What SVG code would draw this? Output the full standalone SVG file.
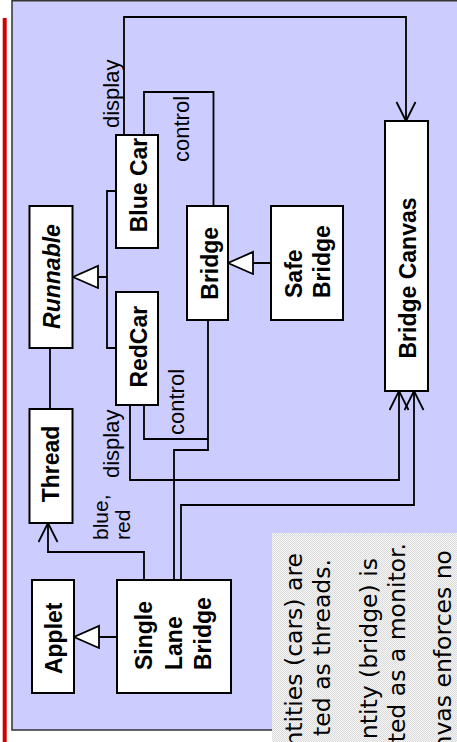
<svg xmlns="http://www.w3.org/2000/svg" width="457" height="742" viewBox="0 0 457 742">
<style>
.box{fill:#fff;stroke:#000;stroke-width:2}
.ln{fill:none;stroke:#000;stroke-width:1.8}
.b{font-family:"Liberation Sans",Arial,sans-serif;font-weight:bold;font-size:23px;fill:#000}
.bi{font-family:"Liberation Sans",Arial,sans-serif;font-weight:bold;font-style:italic;font-size:23px;fill:#000}
.r{font-family:"Liberation Sans",Arial,sans-serif;font-size:22px;fill:#000}
.s{font-family:"Liberation Sans",Arial,sans-serif;font-size:21px;fill:#000}
.n{font-family:"DejaVu Sans","Noto Sans",sans-serif;font-size:23.5px;fill:#000}
</style>
<defs>
<marker id="open" markerUnits="userSpaceOnUse" markerWidth="24" markerHeight="24" viewBox="0 0 24 24" refX="20" refY="10.5" orient="auto">
<path d="M1,1 L20,10.5 L1,20" fill="none" stroke="#000" stroke-width="1.8"/>
</marker>
<marker id="tri" markerUnits="userSpaceOnUse" markerWidth="30" markerHeight="26" viewBox="0 0 30 26" refX="27" refY="12" orient="auto">
<path d="M2,1 L27,12 L2,23 Z" fill="#fff" stroke="#000" stroke-width="1.8"/>
</marker>
<pattern id="dots" width="2" height="2" patternUnits="userSpaceOnUse">
<rect width="2" height="2" fill="#f6f6f6"/>
<rect width="1" height="1" fill="#dadada"/>
<rect x="1" y="1" width="1" height="1" fill="#dadada"/>
</pattern>
</defs>
<rect width="457" height="742" fill="#fff"/>
<rect x="2.7" y="18" width="4" height="724" fill="#d00000"/>
<rect x="12" y="0.75" width="460" height="729.25" fill="#ccccff" stroke="#333" stroke-width="1.5"/>

<g id="connectors">
<path class="ln" d="M116,191 H107 V348 H116"/>
<path class="ln" d="M107,277 H73" marker-end="url(#tri)"/>
<path class="ln" d="M271,263 H228" marker-end="url(#tri)"/>
<path class="ln" d="M117,637 H74" marker-end="url(#tri)"/>
<path class="ln" d="M50,348 V409"/>
<path class="ln" d="M124,135 V17 H406 V121" marker-end="url(#open)"/>
<path class="ln" d="M144,135 V92 H213.5 V206"/>
<path class="ln" d="M130,405 V480 H399 V391" marker-end="url(#open)"/>
<path class="ln" d="M144,405 V439 H208"/>
<path class="ln" d="M208,320 V450 H174 V580"/>
<path class="ln" d="M181,580 V505 H414 V391" marker-end="url(#open)"/>
<path class="ln" d="M144,580 V552 H48 V523" marker-end="url(#open)"/>
<text class="r" transform="translate(118.5,128) rotate(-90)">display</text>
<text class="r" transform="translate(189,162) rotate(-90)">control</text>
<text class="r" transform="translate(118.5,478) rotate(-90)">display</text>
<text class="r" transform="translate(184,435) rotate(-90)">control</text>
<text class="s" transform="translate(108,540) rotate(-90)">blue,</text>
<text class="s" transform="translate(130,540) rotate(-90)">red</text>
</g>

<g id="runnable">
<rect class="box" x="29.5" y="206" width="43" height="142"/>
<text class="bi" text-anchor="middle" transform="translate(60,276.5) rotate(-90)">Runnable</text>
</g>
<g id="thread">
<rect class="box" x="29.5" y="409" width="43" height="114"/>
<text class="b" text-anchor="middle" transform="translate(58.5,464) rotate(-90)">Thread</text>
</g>
<g id="bluecar">
<rect class="box" x="116" y="135" width="42" height="113"/>
<text class="b" text-anchor="middle" transform="translate(146.5,185) rotate(-90)">Blue Car</text>
</g>
<g id="redcar">
<rect class="box" x="116" y="292" width="42" height="113"/>
<text class="b" text-anchor="middle" transform="translate(146.5,346.7) rotate(-90)">RedCar</text>
</g>
<g id="bridge">
<rect class="box" x="187" y="206" width="41" height="114"/>
<text class="b" text-anchor="middle" transform="translate(217.5,263.3) rotate(-90)">Bridge</text>
</g>
<g id="safebridge">
<rect class="box" x="271" y="206" width="72" height="114"/>
<text class="b" transform="translate(301.5,298) rotate(-90)">Safe</text>
<text class="b" transform="translate(330,298) rotate(-90)">Bridge</text>
</g>
<g id="bridgecanvas">
<rect class="box" x="385" y="121" width="43" height="270"/>
<text class="b" text-anchor="middle" transform="translate(416,278) rotate(-90)">Bridge Canvas</text>
</g>
<g id="applet">
<rect class="box" x="32" y="580" width="42" height="113"/>
<text class="b" text-anchor="middle" transform="translate(62,638.3) rotate(-90)">Applet</text>
</g>
<g id="singlelanebridge">
<rect class="box" x="117" y="580" width="114" height="113"/>
<text class="b" transform="translate(152,670) rotate(-90)">Single</text>
<text class="b" transform="translate(181.5,670) rotate(-90)">Lane</text>
<text class="b" transform="translate(211,670) rotate(-90)">Bridge</text>
</g>

<g id="note">
<rect x="272" y="533" width="190" height="215" fill="url(#dots)"/>
<text class="n" text-anchor="end" transform="translate(302,553) rotate(-90)">ntities (cars) are</text>
<text class="n" text-anchor="end" transform="translate(330,559) rotate(-90)">ted as threads.</text>
<text class="n" text-anchor="end" transform="translate(377,558) rotate(-90)">ntity (bridge) is</text>
<text class="n" text-anchor="end" transform="translate(405,543) rotate(-90)">ted as a monitor.</text>
<text class="n" text-anchor="end" transform="translate(451,550) rotate(-90)">nvas enforces no</text>
</g>
</svg>
